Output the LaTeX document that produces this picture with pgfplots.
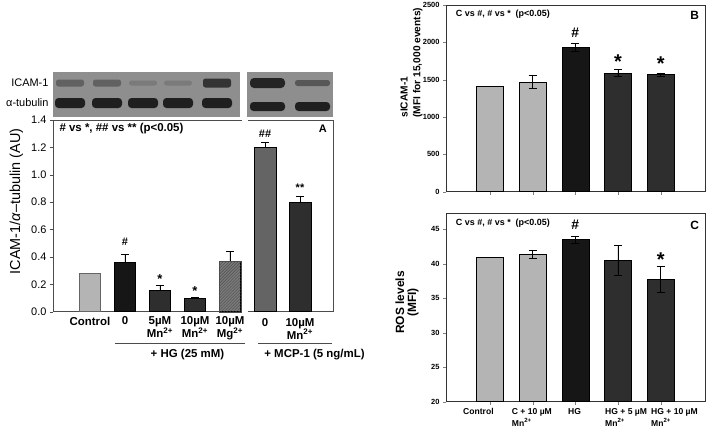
\documentclass[border=0pt]{standalone}
\usepackage{fontspec}
\setmainfont{Liberation Sans}
\usepackage{pgfplots}
\pgfplotsset{compat=1.18}
\usetikzlibrary{patterns}
\definecolor{lbar}{HTML}{B4B4B4}
\definecolor{kbar}{HTML}{161616}
\definecolor{dbar}{HTML}{2E2E2E}
\definecolor{mbar}{HTML}{646464}
\definecolor{hbar}{HTML}{7A7A7A}
\definecolor{blotbg}{HTML}{8E8E8E}
\pgfplotsset{
  errA/.style={error bars/.cd, y dir=plus, y explicit,
     error bar style={black, line width=0.6pt},
     error mark options={rotate=90, black, mark size=4bp, line width=0.6pt}},
  errB/.style={error bars/.cd, y dir=both, y explicit,
     error bar style={black, line width=0.6pt},
     error mark options={rotate=90, black, mark size=4bp, line width=0.6pt}},
  abar/.style={fill=#1, draw=black, line width=0.5pt, bar shift=0pt},
}
\newcommand{\fs}[1]{\fontsize{#1}{#1}\selectfont}
\begin{document}
\begin{tikzpicture}[x=1bp,y=1bp]
\useasboundingbox (0,0) rectangle (713,431);
% ---------- western blot ----------
\fill[blotbg] (53,314) rectangle (240,359);
\fill[blotbg] (247,314) rectangle (333,359);
\foreach \xc/\c/\h in {70/62/3.5,107/62/3.5,143/52/2.5,178/52/2.5,217/80/4.5}
  \fill[black!\c, rounded corners=2.5] (\xc-14,348-\h) rectangle (\xc+14,348+\h);
\foreach \xc in {70,107,143,178,217}
  \fill[black!88, rounded corners=3.5] (\xc-15,323) rectangle (\xc+15,333);
\fill[black!86, rounded corners=4] (250,343) rectangle (285,353);
\fill[black!66, rounded corners=2.5] (295,345) rectangle (330,351);
\fill[black!88, rounded corners=3.5] (250,320) rectangle (285,329);
\fill[black!88, rounded corners=3.5] (295,320) rectangle (330,329);
\node[anchor=east, font=\fs{11}] at (52,348) {ICAM-1};
\node[anchor=east, font=\fs{11}] at (52,328) {α-tubulin};
% ---------- Panel A, left part ----------
\begin{axis}[
  at={(53bp,119.3bp)}, anchor=south west, scale only axis,
  width=189bp, height=191.7bp,
  xmin=-1.057, xmax=4.343, ymin=0, ymax=1.4,
  ybar, bar width=21.5bp,
  axis x line*=box, axis y line*=left,
  axis line style={black!70, line width=0.6pt},
  ytick={0,0.2,0.4,0.6,0.8,1.0,1.2,1.4},
  yticklabel style={font=\fs{11}, /pgf/number format/.cd, fixed, fixed zerofill, precision=1, assume math mode=true},
  ytick align=outside, ytick pos=left, major tick length=3bp,
  ytick style={black!70},
  xtick={0,1,2,3,4}, xtick style={draw=none},
  xticklabels={Control,0,5µM\\Mn\textsuperscript{2+},10µM\\Mn\textsuperscript{2+},10µM\\Mg\textsuperscript{2+}},
  xticklabel style={align=center, font=\bfseries\fontsize{11.5}{13}\selectfont, inner sep=1pt, yshift=-1bp},
  ylabel={ICAM-1/\textit{α}–tubulin (AU)},
  ylabel style={font=\fs{14.5}, at={(axis description cs:-0.14,0.575)}, anchor=south},
  clip=false,
]
\addplot[abar=lbar, draw=black!60] coordinates {(0,0.28)};
\addplot[abar=kbar, errA] coordinates {(1,0.36) +- (0,0.06)};
\addplot[abar=dbar, errA] coordinates {(2,0.16) +- (0,0.03)};
\addplot[abar=dbar, errA] coordinates {(3,0.10) +- (0,0.005)};
\addplot[abar=hbar, errA] coordinates {(4,0.37) +- (0,0.07)};
\addplot[bar shift=0pt, draw=black!70, pattern=north east lines, pattern color=black!70] coordinates {(4,0.37)};
\node[font=\bfseries\fs{11.5}, anchor=west] at (axis cs:-0.97,1.335) {\# vs *, \#\# vs ** (p<0.05)};
\node[font=\bfseries\fs{11}] at (axis cs:1,0.51) {\#};
\node[font=\bfseries\fs{13}] at (axis cs:2,0.24) {*};
\node[font=\bfseries\fs{13}] at (axis cs:3,0.15) {*};
\end{axis}
% ---------- Panel A, right part ----------
\begin{axis}[
  at={(248bp,119.3bp)}, anchor=south west, scale only axis,
  width=85bp, height=191.7bp,
  xmin=4.514, xmax=6.943, ymin=0, ymax=1.4,
  ybar, bar width=21.5bp,
  axis x line*=box, axis y line*=right,
  axis line style={black!70, line width=0.6pt},
  ytick=\empty,
  xtick={5,6}, xtick style={draw=none},
  xticklabels={0,10µM\\Mn\textsuperscript{2+}},
  xticklabel style={align=center, font=\bfseries\fontsize{11.5}{13}\selectfont, inner sep=1pt, yshift=-1bp},
  clip=false,
]
\addplot[abar=mbar, errA] coordinates {(5,1.20) +- (0,0.035)};
\addplot[abar=dbar, errA] coordinates {(6,0.80) +- (0,0.045)};
\node[font=\bfseries\fs{11}] at (axis cs:5,1.30) {\#\#};
\node[font=\bfseries\fs{11}] at (axis cs:6,0.905) {**};
\node[font=\bfseries\fs{11}] at (axis cs:6.65,1.335) {A};
\end{axis}
\draw[black!70, line width=1.2pt] (115,87.7) -- (245,87.7);
\draw[black!70, line width=1.2pt] (258,87.7) -- (332,87.7);
\node[font=\bfseries\fs{11.5}] at (187.5,76.5) {+ HG (25 mM)};
\node[font=\bfseries\fs{11.5}] at (314.5,76.5) {+ MCP-1 (5 ng/mL)};
% ---------- Panel B ----------
\begin{axis}[
  at={(446bp,239.3bp)}, anchor=south west, scale only axis,
  width=259bp, height=186.7bp,
  xmin=-1.03, xmax=5.04, ymin=0, ymax=2500,
  ybar, bar width=27bp,
  axis line style={black!80, line width=0.6pt},
  ytick={0,500,1000,1500,2000,2500},
  yticklabel style={font=\bfseries\fs{7.5}, /pgf/number format/.cd, 1000 sep={}, assume math mode=true},
  tick align=outside, tick pos=left, major tick length=3bp,
  xtick={0,1,2,3,4}, xticklabels={},
  clip=false,
]
\addplot[abar=lbar] coordinates {(0,1410)};
\addplot[abar=lbar, errB] coordinates {(1,1470) +- (0,90)};
\addplot[abar=kbar, errB] coordinates {(2,1930) +- (0,55)};
\addplot[abar=dbar, errB] coordinates {(3,1590) +- (0,45)};
\addplot[abar=dbar, errB] coordinates {(4,1570) +- (0,22)};
\node[font=\bfseries\fs{9}, anchor=west] at (axis cs:-0.88,2380) {C vs \#, \# vs *\ \ (p<0.05)};
\node[font=\bfseries\fs{12}] at (axis cs:4.8,2360) {B};
\node[font=\bfseries\fs{14}] at (axis cs:2,2135) {\#};
\node[font=\bfseries\fs{20}] at (axis cs:3,1740) {*};
\node[font=\bfseries\fs{20}] at (axis cs:4,1715) {*};
\end{axis}
\node[rotate=90, anchor=west, align=left, font=\bfseries\fontsize{10.2}{13}\selectfont] at (411.5,310) {sICAM-1\\(MFI for 15,000 events)};
% ---------- Panel C ----------
\begin{axis}[
  at={(446bp,29.3bp)}, anchor=south west, scale only axis,
  width=259bp, height=188.4bp,
  xmin=-1.03, xmax=5.04, ymin=20, ymax=47.3,
  ybar, bar width=27bp,
  axis line style={black!80, line width=0.6pt},
  ytick={20,25,30,35,40,45},
  yticklabel style={font=\bfseries\fs{7.5}, /pgf/number format/.cd, assume math mode=true},
  tick align=outside, tick pos=left, major tick length=3bp,
  xtick={0,1,2,3,4}, xticklabels={},
  clip=false,
]
\addplot[abar=lbar] coordinates {(0,40.9)};
\addplot[abar=lbar, errB] coordinates {(1,41.4) +- (0,0.6)};
\addplot[abar=kbar, errB] coordinates {(2,43.5) +- (0,0.5)};
\addplot[abar=dbar, errB] coordinates {(3,40.5) +- (0,2.2)};
\addplot[abar=dbar, errB] coordinates {(4,37.7) +- (0,1.85)};
\node[font=\bfseries\fs{9}, anchor=west] at (axis cs:-0.88,45.8) {C vs \#, \# vs *\ \ (p<0.05)};
\node[font=\bfseries\fs{12}] at (axis cs:4.8,45.6) {C};
\node[font=\bfseries\fs{14}] at (axis cs:2,45.6) {\#};
\node[font=\bfseries\fs{20}] at (axis cs:4,40.6) {*};
\end{axis}
\node[rotate=90, align=center, font=\bfseries\fontsize{12}{12}\selectfont] at (407,128.5) {ROS levels\\(MFI)};
\begin{scope}[every node/.style={anchor=north west, align=left, inner sep=0pt, font=\bfseries\fontsize{8.6}{12}\selectfont}]
\node at (463,23) {Control};
\node at (511.7,23) {C + 10 µM\\Mn\textsuperscript{2+}};
\node at (568,23) {HG};
\node at (605,23) {HG + 5 µM\\Mn\textsuperscript{2+}};
\node at (651,23) {HG + 10 µM\\Mn\textsuperscript{2+}};
\end{scope}
\end{tikzpicture}
\end{document}
